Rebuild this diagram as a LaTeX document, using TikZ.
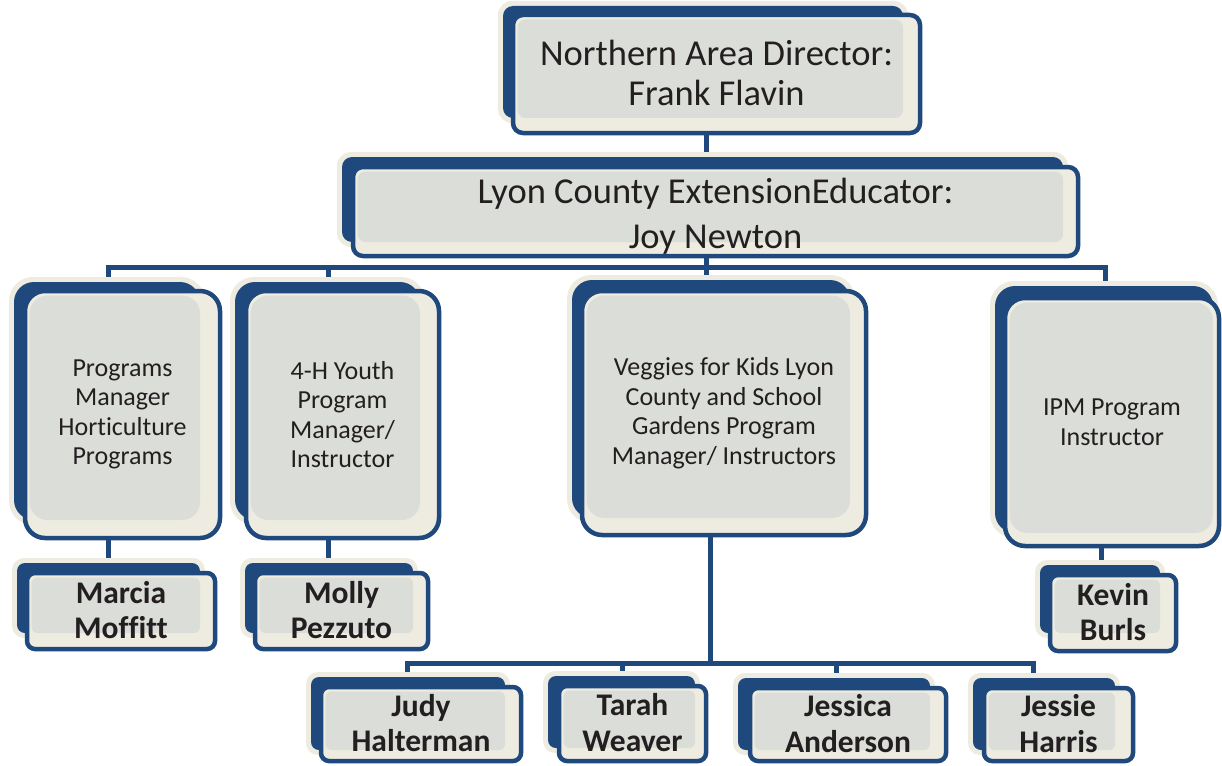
\documentclass[tikz,border=0pt]{standalone}
\usepackage{fontspec}
\setmainfont{Carlito}[Ligatures=CommonOff]
\usetikzlibrary{calc,fit,backgrounds}
\definecolor{obl}{HTML}{1F497D}
\definecolor{ocr}{HTML}{EEECE1}
\definecolor{ogr}{HTML}{DBDDD9}
\definecolor{otx}{HTML}{231F20}
\tikzset{
  conn/.style={draw=obl, line width=5pt},
  ttl/.style={font=\fontsize{36.5}{40}\selectfont, text=otx, align=center, yshift=1pt},
  ttlb/.style={font=\fontsize{36.5}{45}\selectfont, text=otx, align=center, yshift=-5pt},
  role/.style={font=\fontsize{26}{29.5}\selectfont, text=otx, align=center},
  who/.style={font=\fontsize{31.5}{35.5}\selectfont\bfseries, text=otx, align=center, yshift=1pt},
}
% #1 name, #2 back NW, #3 back SE, #4 front NW, #5 front SE, #6 radius, #7 text style, #8 text
\newcommand{\orgcard}[8]{%
  \fill[ocr, rounded corners=#6+4] ($(#2)+(-5,-5)$) rectangle ($(#3)+(5,5)$);
  \fill[obl, rounded corners=#6] (#2) rectangle (#3);
  \draw[obl, line width=4.5pt, fill=ocr, rounded corners=#6] (#4) rectangle (#5);
  \fill[ogr, rounded corners=#6-2] ($(#4)+(4.5,4.5)$) rectangle (#3);
  \node[fit={(#4)(#5)}, inner sep=0pt] (#1) {};
  \node[#7, inner sep=0pt] (#1-t) at (#1.center) {#8};
}
\begin{document}
\begin{tikzpicture}[x=1pt, y=-1pt]
\useasboundingbox (0,0) rectangle (1222,765);

\orgcard{top}{503,6}{903,118}{513,15}{920,133}{10}{ttl}{Northern Area Director:\\Frank Flavin}
\orgcard{lyon}{342,157}{1063,242}{353,167}{1078,256}{10}{ttlb}{Lyon County ExtensionEducator:\\Joy Newton}

\orgcard{pm}{14,282}{200,520}{25,291}{220,538}{20}{role}{Programs\\Manager\\Horticulture\\Programs}
\orgcard{youth}{235,282}{420,520}{246,291}{439,538}{20}{role}{4-H Youth\\Program\\Manager/\\Instructor}
\orgcard{veg}{572,280}{850,518}{582,291}{866,535}{20}{role}{Veggies for Kids Lyon\\County and School\\Gardens Program\\Manager/ Instructors}
\orgcard{ipm}{995,286}{1213,533}{1005,298}{1219,546}{20}{role}{IPM Program\\Instructor}

\orgcard{marcia}{17,563}{200,633}{27,573}{215,649}{8}{who}{Marcia\\Moffitt}
\orgcard{molly}{245,563}{413,633}{255,573}{428,649}{8}{who}{Molly\\Pezzuto}
\orgcard{kevin}{1040,565}{1160,633}{1050,575}{1176,651}{8}{who}{Kevin\\Burls}

\orgcard{judy}{311,677}{505,750}{321,687}{521,761}{8}{who}{Judy\\Halterman}
\orgcard{tarah}{548,676}{695,748}{559,686}{706,761}{8}{who}{Tarah\\Weaver}
\orgcard{jessica}{738,678}{930,750}{750,688}{946,761}{8}{who}{Jessica\\Anderson}
\orgcard{jessie}{973,678}{1115,750}{984,688}{1133,761}{8}{who}{Jessie\\Harris}

\coordinate (b1) at (706,267);
\coordinate (bL) at (108,267);
\coordinate (bB) at (328,267);
\coordinate (bR) at (1105,267);
\coordinate (kx) at (1101,560);
\coordinate (c1) at (710,663);
\coordinate (cL) at (407,663);
\coordinate (cT) at (622,663);
\coordinate (cJ) at (836,663);
\coordinate (cR) at (1033,663);

\begin{scope}[on background layer]
  \fill[white] (0,0) rectangle (1222,765);
  \draw[conn] (top.south -| b1) -- (lyon.north -| b1);
  \draw[conn] (lyon.south -| b1) -- (b1);
  \draw[conn] (pm.north -| bL) |- (bR) -- (ipm.north -| bR);
  \draw[conn] (bB) -- (youth.north -| bB);
  \draw[conn] (b1) -- (veg.north -| b1);
  \draw[conn] (pm.south -| bL) -- (marcia.north -| bL);
  \draw[conn] (youth.south -| bB) -- (molly.north -| bB);
  \draw[conn] (ipm.south -| kx) -- (kevin.north -| kx);
  \draw[conn] (veg.south -| c1) -- (c1);
  \draw[conn] (judy.north -| cL) |- (cR) -- (jessie.north -| cR);
  \draw[conn] (cT) -- (tarah.north -| cT);
  \draw[conn] (cJ) -- (jessica.north -| cJ);
\end{scope}
\end{tikzpicture}
\end{document}
